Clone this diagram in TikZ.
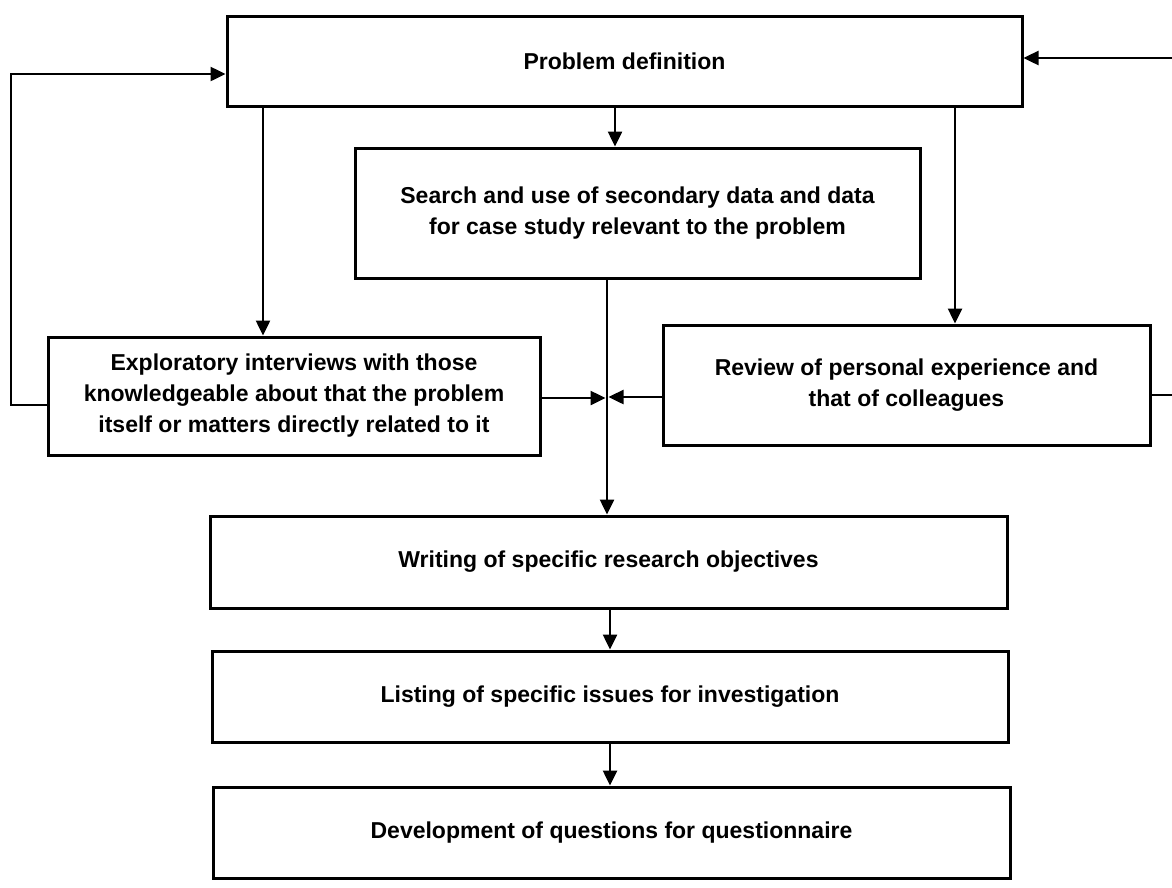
\documentclass[tikz,border=0pt]{standalone}
\usepackage{fontspec}
\setmainfont{Liberation Sans}
\usetikzlibrary{arrows.meta}
\tikzset{
  box/.style={draw, line width=3pt, rectangle, align=center, inner sep=0pt,
    font=\fontsize{23}{31}\selectfont\bfseries},
  arr/.style={line width=2.5pt, -{Triangle[length=15pt,width=14pt]}},
}
\begin{document}
\begin{tikzpicture}[x=1pt,y=-1pt]
\path[use as bounding box] (0,0) rectangle (1172,887);
\clip (0,0) rectangle (1172,887);

\node[box, minimum width=795pt, minimum height=90pt] (pd) at (624.5,61) {Problem definition};
\node[box, minimum width=565pt, minimum height=130pt] (search) at (637.5,213)
  {Search and use of secondary data and data\\for case study relevant to the problem};
\node[box, minimum width=492pt, minimum height=118pt] (expl) at (294,396)
  {Exploratory interviews with those\\knowledgeable about that the problem\\itself or matters directly related to it};
\node[box, minimum width=487pt, minimum height=120pt] (review) at (906.5,385)
  {Review of personal experience and\\that of colleagues};
\node[box, minimum width=797pt, minimum height=92pt] (writing) at (608.5,562)
  {Writing of specific research objectives};
\node[box, minimum width=796pt, minimum height=91pt] (listing) at (610,696.5)
  {Listing of specific issues for investigation};
\node[box, minimum width=797pt, minimum height=91pt] (dev) at (611.5,832.5)
  {Development of questions for questionnaire};

\coordinate (xl) at (263,0);
\coordinate (xm) at (615,0);
\coordinate (xr) at (955,0);
\coordinate (xc) at (607,0);
\coordinate (xw) at (610,0);
\coordinate (ye) at (0,398);
\coordinate (yr) at (0,397);
\coordinate (L1) at (11,405);
\coordinate (L2) at (11,74);
\coordinate (R1) at (1195,395);
\coordinate (R2) at (1195,58);

\draw[arr] (pd.south -| xl) -- (expl.north -| xl);
\draw[arr] (pd.south -| xm) -- (search.north -| xm);
\draw[arr] (pd.south -| xr) -- (review.north -| xr);
\draw[arr] (search.south -| xc) -- (writing.north -| xc);
\draw[arr] (expl.east |- ye) -- ([xshift=-1.5pt]xc |- ye);
\draw[arr] (review.west |- yr) -- ([xshift=1.5pt]xc |- yr);
\draw[arr] (writing.south -| xw) -- (listing.north -| xw);
\draw[arr] (listing.south -| xw) -- (dev.north -| xw);
\draw[arr] (expl.west |- L1) -- (L1) -- (L2) -- (pd.west |- L2);
\draw[arr] (review.east |- R1) -- (R1) -- (R2) -- (pd.east |- R2);
\end{tikzpicture}
\end{document}
